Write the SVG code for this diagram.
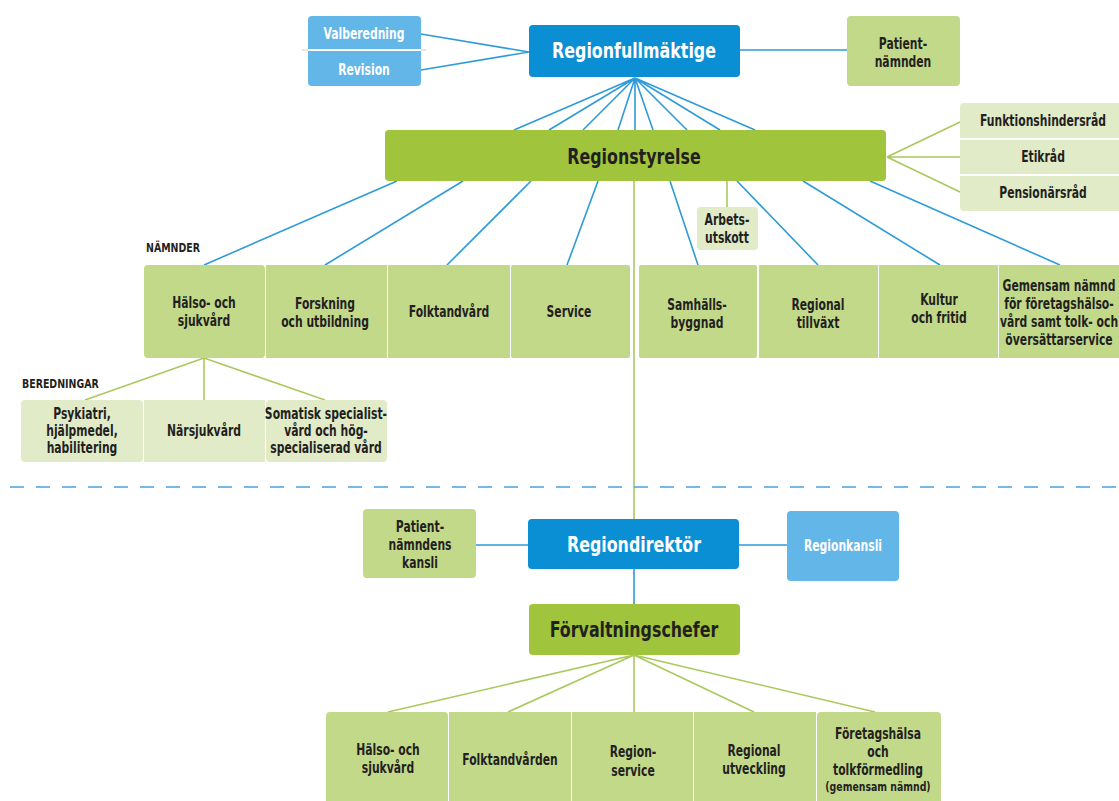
<svg xmlns="http://www.w3.org/2000/svg" width="1119" height="801" viewBox="0 0 1119 801">
<style>
text{font-family:"DejaVu Sans Condensed","Liberation Sans",sans-serif;font-weight:bold;text-anchor:middle;fill:#231f20;font-size:15px;transform-box:fill-box;transform-origin:center;transform:scaleX(0.8)}
.w{fill:#fff}
.big{font-size:21px;transform:scaleX(0.84)}
.lbl{text-anchor:start;font-size:12.5px;transform-origin:left center;transform:scaleX(0.84)}
.sm{font-size:13px}
.dblue{fill:#0a8fd4}
.lblue{fill:#62b6e8}
.bgreen{fill:#a0c43c}
.mgreen{fill:#c3d98a}
.lgreen{fill:#e1ebc8}
.bl{stroke:#2d9bd9;stroke-width:1.6;fill:none}
.gl{stroke:#a9c95c;stroke-width:1.6;fill:none}
.sep{stroke:#fff;stroke-width:2}
</style>
<rect width="1119" height="801" fill="#fff"/>
<g id="connectors">
<path class="bl" d="M421,34 L529,52 M421,70 L529,52 M740,50 L847,50"/>
<path class="bl" d="M635,78 L514,130 M635,78 L549,130 M635,78 L583,130 M635,78 L618,130 M635,78 L635,130 M635,78 L653,130 M635,78 L687,130 M635,78 L720,130 M635,78 L755,130"/>
<path class="gl" d="M887,157 L960,122 M887,157 L960,157 M887,157 L960,192 M727,181 L727,207"/>
<path class="bl" d="M397,181 L204,265 M463,181 L325,265 M531,181 L447,265 M598,181 L567,265 M670,181 L698,265 M737,181 L818,265 M803,181 L940,265 M870,181 L1060,265"/>
<path class="gl" d="M634,181 L634,519"/>
<path class="gl" d="M204,358 L85,400 M204,358 L204,400 M204,358 L325,400"/>
<path d="M10,487 L1119,487" stroke="#4aa3df" stroke-width="1.6" stroke-dasharray="14,12" fill="none"/>
<path class="bl" d="M476,545 L528,545 M739,545 L787,545 M634,569 L634,604"/>
<path class="gl" d="M634,655 L388,712 M634,655 L508,712 M634,655 L634,712 M634,655 L754,712 M634,655 L875,712"/>
</g>
<g id="valberedning"><rect x="308" y="16" width="113" height="70" rx="4" class="lblue"/><line x1="302" y1="50" x2="426" y2="50" stroke="#e8e8e8" stroke-width="2"/><line x1="308" y1="50" x2="421" y2="50" class="sep"/><text x="364" y="39" class="w">Valberedning</text><text x="364" y="75" class="w">Revision</text></g>
<g id="regionfullmaktige"><rect x="529" y="25" width="211" height="52" rx="4" class="dblue"/><text x="634" y="58" class="w big">Regionfullmäktige</text></g>
<g id="patientnamnden"><rect x="847" y="16" width="113" height="70" rx="4" class="mgreen"/><text x="903" y="49">Patient-</text><text x="903" y="67">nämnden</text></g>
<g id="regionstyrelse"><rect x="385" y="130" width="501" height="51" rx="4" class="bgreen"/><text x="634" y="164" class="big">Regionstyrelse</text></g>
<g id="rad"><rect x="960" y="103" width="170" height="108" rx="4" class="lgreen"/><line x1="960" y1="139" x2="1119" y2="139" class="sep"/><line x1="960" y1="175" x2="1119" y2="175" class="sep"/><text x="1043" y="126">Funktionshindersråd</text><text x="1043" y="162">Etikråd</text><text x="1043" y="198">Pensionärsråd</text></g>
<g id="arbetsutskott"><rect x="697" y="207" width="61" height="43" rx="4" class="lgreen"/><text x="727" y="225">Arbets-</text><text x="727" y="243">utskott</text></g>
<text x="146" y="252" class="lbl">NÄMNDER</text>
<g id="n-halso"><rect x="144" y="265" width="121" height="93" rx="4" class="mgreen"/><text x="204" y="308">Hälso- och</text><text x="204" y="326">sjukvård</text></g>
<g id="n-forskning"><rect x="266" y="265" width="121" height="93" class="mgreen"/><text x="325" y="309">Forskning</text><text x="325" y="327">och utbildning</text></g>
<g id="n-folktandvard"><rect x="388" y="265" width="122" height="93" class="mgreen"/><text x="449" y="317">Folktandvård</text></g>
<g id="n-service"><rect x="511" y="265" width="119" height="93" rx="2" class="mgreen"/><text x="569" y="317">Service</text></g>
<g id="n-samhall"><rect x="639" y="265" width="118" height="93" rx="2" class="mgreen"/><text x="697" y="310">Samhälls-</text><text x="697" y="328">byggnad</text></g>
<g id="n-tillvaxt"><rect x="759" y="265" width="119" height="93" class="mgreen"/><text x="818" y="310">Regional</text><text x="818" y="328">tillväxt</text></g>
<g id="n-kultur"><rect x="879" y="265" width="119" height="93" class="mgreen"/><text x="939" y="305">Kultur</text><text x="939" y="323">och fritid</text></g>
<g id="n-gemensam"><rect x="999" y="265" width="130" height="93" class="mgreen"/><text x="1059" y="291">Gemensam nämnd</text><text x="1059" y="309">för företagshälso-</text><text x="1059" y="327">vård samt tolk- och</text><text x="1059" y="345">översättarservice</text></g>
<text x="22" y="388" class="lbl">BEREDNINGAR</text>
<g id="b-psykiatri"><rect x="21" y="400" width="122" height="62" rx="4" class="lgreen"/><text x="82" y="419">Psykiatri,</text><text x="82" y="436">hjälpmedel,</text><text x="82" y="453">habilitering</text></g>
<g id="b-narsjukvard"><rect x="144" y="400" width="121" height="62" class="lgreen"/><text x="204" y="436">Närsjukvård</text></g>
<g id="b-somatisk"><rect x="266" y="400" width="121" height="62" rx="4" class="lgreen"/><text x="326" y="419">Somatisk specialist-</text><text x="326" y="436">vård och hög-</text><text x="326" y="453">specialiserad vård</text></g>
<g id="patientkansli"><rect x="363" y="509" width="113" height="69" rx="4" class="mgreen"/><text x="420" y="532">Patient-</text><text x="420" y="550">nämndens</text><text x="420" y="568">kansli</text></g>
<g id="regiondirektor"><rect x="528" y="519" width="211" height="50" rx="4" class="dblue"/><text x="634" y="552" class="w big">Regiondirektör</text></g>
<g id="regionkansli"><rect x="787" y="511" width="112" height="70" rx="4" class="lblue"/><text x="843" y="551" class="w">Regionkansli</text></g>
<g id="forvaltningschefer"><rect x="529" y="604" width="211" height="51" rx="4" class="bgreen"/><text x="634" y="637" class="big">Förvaltningschefer</text></g>
<g id="f-halso"><rect x="326" y="712" width="122" height="95" rx="4" class="mgreen"/><text x="388" y="755">Hälso- och</text><text x="388" y="773">sjukvård</text></g>
<g id="f-folktandvarden"><rect x="449" y="712" width="122" height="95" class="mgreen"/><text x="510" y="765">Folktandvården</text></g>
<g id="f-regionservice"><rect x="572" y="712" width="121" height="95" class="mgreen"/><text x="633" y="757">Region-</text><text x="633" y="776">service</text></g>
<g id="f-regional"><rect x="694" y="712" width="122" height="95" class="mgreen"/><text x="754" y="756">Regional</text><text x="754" y="774">utveckling</text></g>
<g id="f-foretagshalsa"><rect x="817" y="712" width="124" height="95" rx="4" class="mgreen"/><text x="878" y="739">Företagshälsa</text><text x="878" y="757">och</text><text x="878" y="775">tolkförmedling</text><text x="878" y="791" class="sm">(gemensam nämnd)</text></g>
</svg>
